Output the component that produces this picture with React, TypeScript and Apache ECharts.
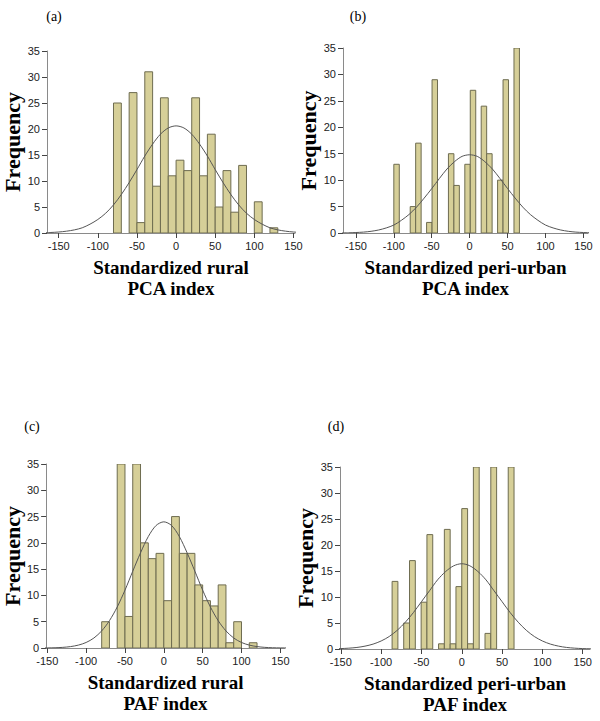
import React, { useEffect, useRef } from "react";
import * as echarts from "echarts";

// ---------- data ----------
const panelLabels = ["(a)", "(b)", "(c)", "(d)"];
const xTitles = [
  "Standardized rural\nPCA index",
  "Standardized peri-urban\nPCA index",
  "Standardized rural\nPAF index",
  "Standardized peri-urban\nPAF index",
];
const yTitle = "Frequency";
const xTickValues = [-150, -100, -50, 0, 50, 100, 150];

// (a) rural PCA
const binWidthA = 10;
const binStartA = [-80, -60, -50, -40, -30, -20, -10, 0, 10, 20, 30, 40, 50, 60, 70, 80, 100, 120];
const countsA = [25, 27, 2, 31, 9, 26, 11, 14, 12, 26, 11, 19, 5, 12, 4, 13, 6, 1];

// (b) peri-urban PCA
const binWidthB = 7.2;
const binStartB = [-100, -78.4, -71.2, -56.8, -49.6, -28, -20.8, -6.4, 0.8, 15.2, 22.4, 36.8, 44, 58.4];
const countsB = [13, 5, 17, 2, 29, 15, 9, 13, 27, 24, 15, 10, 29, 35];

// (c) rural PAF
const binWidthC = 10;
const binStartC = [-80, -60, -50, -40, -30, -20, -10, 0, 10, 20, 30, 40, 50, 60, 70, 80, 90, 110];
const countsC = [5, 35, 6, 35, 20, 17, 18, 9, 25, 18, 18, 12, 9, 8, 12, 1, 5, 1];

// (d) peri-urban PAF
const binWidthD = 7.2;
const binStartD = [-86.4, -72, -64.8, -50.4, -43.2, -28.8, -21.6, -14.4, -7.2, 0, 7.2, 14.4, 28.8, 36, 57.6];
const countsD = [13, 5, 17, 9, 22, 1, 23, 1, 12, 27, 1, 35, 3, 35, 35];

// normal curves
const curveX = [
  -170, -160, -150, -140, -130, -120, -110, -100, -90, -80, -70, -60, -50, -40, -30, -20, -10, 0,
  10, 20, 30, 40, 50, 60, 70, 80, 90, 100, 110, 120, 130, 140, 150, 160, 170,
];
const curveA = [
  0.05, 0.1, 0.19, 0.35, 0.6, 1.0, 1.7, 2.6, 3.8, 5.4, 7.4, 9.7, 12.2, 14.8, 17.1, 19.0, 20.2, 20.6,
  20.2, 19.0, 17.1, 14.8, 12.2, 9.7, 7.4, 5.4, 3.8, 2.6, 1.7, 1.0, 0.6, 0.35, 0.19, 0.1, 0.05,
];
const curveB = [
  0.02, 0.04, 0.09, 0.17, 0.32, 0.57, 0.96, 1.5, 2.4, 3.5, 4.9, 6.6, 8.4, 10.3, 12.1, 13.5, 14.5, 14.8,
  14.5, 13.5, 12.1, 10.3, 8.4, 6.6, 4.9, 3.5, 2.4, 1.5, 0.96, 0.57, 0.32, 0.17, 0.09, 0.04, 0.02,
];
const curveC = [
  0, 0.01, 0.02, 0.05, 0.12, 0.27, 0.55, 1.05, 1.9, 3.25, 5.2, 7.8, 11.0, 14.6, 18.1, 21.2, 23.3, 24.0,
  23.3, 21.2, 18.1, 14.6, 11.0, 7.8, 5.2, 3.25, 1.9, 1.05, 0.55, 0.27, 0.12, 0.05, 0.02, 0.01, 0,
];
const curveD = [
  0.02, 0.04, 0.08, 0.16, 0.3, 0.55, 0.94, 1.54, 2.4, 3.6, 5.15, 7.0, 9.1, 11.2, 13.3, 14.9, 16.0, 16.4,
  16.0, 14.9, 13.3, 11.2, 9.1, 7.0, 5.15, 3.6, 2.4, 1.54, 0.94, 0.55, 0.3, 0.16, 0.08, 0.04, 0.02,
];

const panels = [
  { w: binWidthA, starts: binStartA, counts: countsA, curve: curveA },
  { w: binWidthB, starts: binStartB, counts: countsB, curve: curveB },
  { w: binWidthC, starts: binStartC, counts: countsC, curve: curveC },
  { w: binWidthD, starts: binStartD, counts: countsD, curve: curveD },
];

// ---------- layout ----------
const layout = [
  { left: 47, top: 51, width: 248, height: 182, min: -165, max: 152, lx: 54, ly: 16 },
  { left: 343, top: 48, width: 245, height: 185, min: -167, max: 156, lx: 358, ly: 16 },
  { left: 43, top: 464, width: 242, height: 184, min: -151.5, max: 156, lx: 32, ly: 426 },
  { left: 340, top: 467, width: 250, height: 182, min: -151, max: 159, lx: 336, ly: 426 },
];

const BAR_FILL = "#d6cf98";
const BAR_STROKE = "#6e6c50";
const AXIS_COLOR = "#8a8a8a";
const LABEL_FONT = "'Liberation Sans', Arial, sans-serif";
const TITLE_FONT = "'Liberation Serif', 'Times New Roman', serif";

export default function App() {
  const ref = useRef<HTMLDivElement>(null);
  useEffect(() => {
    if (!ref.current) return;
    const chart = echarts.init(ref.current, null, { renderer: "svg" });
    const grid = layout.map((l) => ({ left: l.left, top: l.top, width: l.width, height: l.height, containLabel: false }));
    const xAxis = layout.map((l, i) => ({
      type: "value",
      gridIndex: i,
      min: l.min,
      max: l.max,
      splitLine: { show: false },
      axisLine: { show: true, onZero: false, lineStyle: { color: AXIS_COLOR, width: 1 } },
      axisTick: { show: true, length: 5, customValues: xTickValues, lineStyle: { color: "#444" } },
      axisLabel: {
        customValues: xTickValues,
        fontFamily: LABEL_FONT,
        fontSize: 11,
        color: "#222",
        margin: 7,
      },
      name: xTitles[i],
      nameLocation: "middle",
      nameGap: 24,
      nameTextStyle: {
        fontFamily: TITLE_FONT,
        fontWeight: "bold",
        fontSize: 19,
        lineHeight: 21,
        color: "#000",
      },
    }));
    const yAxis = layout.map((l, i) => ({
      type: "value",
      gridIndex: i,
      min: 0,
      max: 35,
      interval: 5,
      splitLine: { show: false },
      axisLine: { show: true, onZero: false, lineStyle: { color: AXIS_COLOR, width: 1 } },
      axisTick: { show: true, length: 5, lineStyle: { color: "#444" } },
      axisLabel: { fontFamily: LABEL_FONT, fontSize: 11, color: "#222", margin: 7 },
      name: yTitle,
      nameLocation: "middle",
      nameGap: 22,
      nameTextStyle: {
        fontFamily: TITLE_FONT,
        fontWeight: "bold",
        fontSize: 22,
        color: "#000",
      },
    }));
    const series: any[] = [];
    panels.forEach((p, i) => {
      series.push({
        type: "custom",
        xAxisIndex: i,
        yAxisIndex: i,
        clip: true,
        encode: { x: [0, 1], y: 2 },
        data: p.starts.map((s, k) => [s, s + p.w, p.counts[k]]),
        renderItem: (_params: any, api: any) => {
          const lo = api.value(0);
          const hi = api.value(1);
          const v = api.value(2);
          const p0 = api.coord([lo, 0]);
          const p1 = api.coord([hi, v]);
          return {
            type: "rect",
            shape: { x: p0[0], y: p1[1], width: p1[0] - p0[0], height: p0[1] - p1[1] },
            style: { fill: BAR_FILL, stroke: BAR_STROKE, lineWidth: 1 },
          };
        },
        z: 2,
      });
      series.push({
        type: "line",
        xAxisIndex: i,
        yAxisIndex: i,
        data: curveX.map((x, k) => [x, p.curve[k]]),
        smooth: 0.3,
        showSymbol: false,
        symbol: "none",
        clip: true,
        lineStyle: { color: "#555", width: 1 },
        z: 3,
      });
    });
    chart.setOption({
      animation: false,
      backgroundColor: "#fff",
      grid,
      xAxis,
      yAxis,
      series,
      graphic: layout.map((l, i) => ({
        type: "text",
        x: l.lx,
        y: l.ly,
        style: {
          text: panelLabels[i],
          font: `14px ${TITLE_FONT}`,
          fill: "#000",
          align: "center",
          verticalAlign: "middle",
        },
      })),
    });
    return () => chart.dispose();
  }, []);
  return (
    <div
      ref={ref}
      style={{ position: "fixed", left: 0, top: 0, width: 600, height: 721, background: "#fff" }}
    />
  );
}
